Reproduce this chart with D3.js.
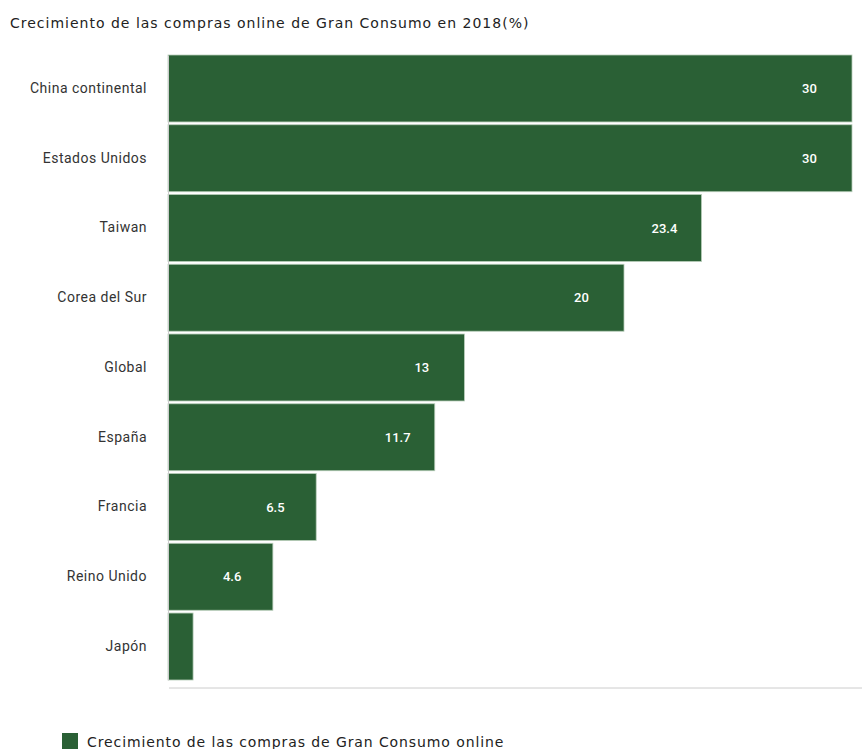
<!DOCTYPE html>
<html>
<head>
<meta charset="utf-8">
<script src="https://cdn.jsdelivr.net/npm/d3@7"></script>
<style>
  body { margin: 0; background: #fff; }
</style>
</head>
<body>
<div id="chart"></div>
<script>
const categories = ["China continental", "Estados Unidos", "Taiwan", "Corea del Sur", "Global", "España", "Francia", "Reino Unido", "Japón"];
const values = [30, 30, 23.4, 20, 13, 11.7, 6.5, 4.6, 1.1];
const labels = ["30", "30", "23.4", "20", "13", "11.7", "6.5", "4.6", ""];
const seriesName = "Crecimiento de las compras de Gran Consumo online";
const title = "Crecimiento de las compras online de Gran Consumo en 2018(%)";

let wSvg = 862, hSvg = 749;
let barColor = "#2a6035";

const svg = d3.select("#chart").append("svg")
    .attr("width", wSvg)
    .attr("height", hSvg);

const xScale = d3.scaleLinear().domain([0, 30]).range([168, 852]);
const yScale = d3.scaleBand().domain(categories).range([55, 680]).paddingInner(0.04);

svg.append("text")
    .attr("x", 10).attr("y", 28)
    .style("font-family", "DejaVu Sans")
    .style("font-size", "14px")
    .style("letter-spacing", "1px")
    .attr("fill", "#222")
    .text(title);

// bars
svg.append("g").selectAll("rect")
    .data(values)
    .enter()
    .append("rect")
    .attr("x", xScale(0))
    .attr("y", (d, i) => yScale(categories[i]))
    .attr("width", d => xScale(d) - xScale(0))
    .attr("height", yScale.bandwidth())
    .attr("fill", barColor)
    .attr("stroke", "#b7cdb9")
    .attr("stroke-width", 0.8);

// value labels
svg.append("g").selectAll("text")
    .data(values)
    .enter()
    .append("text")
    .attr("x", d => xScale(d) - 50)
    .attr("y", (d, i) => yScale(categories[i]) + yScale.bandwidth() / 2)
    .attr("dy", "0.35em")
    .style("font-family", "Roboto")
    .style("font-size", "13px")
    .style("font-weight", "500")
    .attr("fill", "#fff")
    .text((d, i) => labels[i]);

// y axis
const axisLeft = d3.axisLeft(yScale).tickSize(0).tickPadding(21);
const gy = svg.append("g")
    .attr("transform", `translate(${xScale(0)}, 0)`)
    .call(axisLeft);
gy.select(".domain").attr("stroke", "#ccc");
gy.selectAll("text")
    .style("font-family", "Roboto")
    .style("font-size", "14px")
    .style("letter-spacing", "0.5px")
    .attr("fill", "#333");

// bottom line
svg.append("line")
    .attr("x1", xScale(0) + 1).attr("x2", wSvg)
    .attr("y1", 688).attr("y2", 688)
    .attr("stroke", "#ccc");

// legend
const legend = svg.append("g").attr("transform", "translate(62, 733)");
legend.append("rect")
    .attr("width", 16).attr("height", 16)
    .attr("fill", barColor);
legend.append("text")
    .attr("x", 25).attr("y", 14)
    .style("font-family", "DejaVu Sans")
    .style("font-size", "14px")
    .style("letter-spacing", "0.9px")
    .attr("fill", "#222")
    .text(seriesName);
</script>
</body>
</html>
